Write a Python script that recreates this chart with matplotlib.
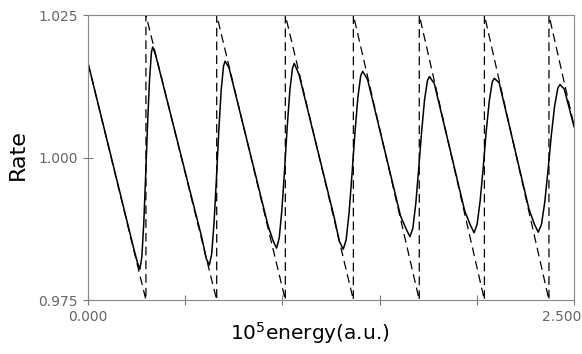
import matplotlib
matplotlib.use('Agg')
import matplotlib.pyplot as plt
import matplotlib.transforms as mtransforms

plt.rcParams['font.family'] = ['DejaVu Sans']
plt.rcParams['mathtext.default'] = 'regular'

# sawtooth (dashed): start value, jump positions, end value
jump_x = [0.298, 0.662, 1.015, 1.365, 1.704, 2.039, 2.371]
saw_start = 1.0166
saw_end = 1.0056
saw_low = 0.975
saw_high = 1.025

# smooth rate curve (solid)
rate_x = [0.000,
          0.237, 0.255, 0.267, 0.2769, 0.2868, 0.2967, 0.3066, 0.3165, 0.3264, 0.333, 0.350,
          0.585, 0.608, 0.624, 0.6362, 0.6483, 0.6605, 0.6726, 0.6848, 0.6969, 0.705, 0.725,
          0.925, 0.952, 0.970, 0.9837, 0.9973, 1.0110, 1.0246, 1.0383, 1.0519, 1.061, 1.085,
          1.265, 1.293, 1.313, 1.328, 1.343, 1.358, 1.373, 1.388, 1.403, 1.413, 1.438,
          1.608, 1.636, 1.656, 1.671, 1.686, 1.701, 1.716, 1.731, 1.746, 1.756, 1.781,
          1.938, 1.966, 1.986, 2.0016, 2.0172, 2.0328, 2.0484, 2.0640, 2.0796, 2.090, 2.115,
          2.268, 2.296, 2.316, 2.3328, 2.3496, 2.3664, 2.3832, 2.4000, 2.4168, 2.428, 2.450,
          2.500]
rate_y = [1.0166,
          0.9838, 0.9815, 0.9804, 0.9825, 0.9884, 0.9969, 1.0060, 1.0137, 1.0185, 1.0194, 1.0177,
          0.9860, 0.9823, 0.9811, 0.9831, 0.9885, 0.9962, 1.0046, 1.0117, 1.0160, 1.0169, 1.0158,
          0.9882, 0.9854, 0.9841, 0.9859, 0.9908, 0.9978, 1.0053, 1.0118, 1.0157, 1.0165, 1.0146,
          0.9897, 0.9853, 0.9839, 0.9856, 0.9903, 0.9971, 1.0043, 1.0105, 1.0144, 1.0151, 1.0137,
          0.9897, 0.9875, 0.9861, 0.9876, 0.9919, 0.9980, 1.0045, 1.0101, 1.0135, 1.0142, 1.0130,
          0.9906, 0.9882, 0.9868, 0.9883, 0.9924, 0.9982, 1.0046, 1.0099, 1.0133, 1.0139, 1.0131,
          0.9910, 0.9883, 0.9869, 0.9883, 0.9922, 0.9978, 1.0039, 1.0090, 1.0122, 1.0128, 1.0120,
          1.0054]

x_ticks = [0.0, 0.5, 1.0, 1.5, 2.0, 2.5]
x_ticklabels = ['0.000', '', '', '', '', '2.500']
y_ticks = [0.975, 1.000, 1.025]
y_ticklabels = ['0.975', '1.000', '1.025']

# build sawtooth vertices from the jumps
saw_x = [0.0]
saw_y = [saw_start]
for j in jump_x:
    saw_x += [j, j]
    saw_y += [saw_low, saw_high]
saw_x.append(2.5)
saw_y.append(saw_end)

fig = plt.figure(figsize=(5.82, 3.54), dpi=100)
ax = fig.add_axes([0.1512, 0.1525, 0.8351, 0.8051])

ax.plot(saw_x, saw_y, color='black', lw=0.9, dashes=(7, 4))
ax.plot(rate_x, rate_y, color='black', lw=1.1)

ax.set_xlim(0, 2.5)
ax.set_ylim(0.975, 1.025)

for s in ax.spines.values():
    s.set_color('#888888')
    s.set_linewidth(0.8)

ax.set_xticks(x_ticks)
ax.set_xticklabels(x_ticklabels)
ax.set_yticks(y_ticks)
ax.set_yticklabels(y_ticklabels)
ax.tick_params(direction='inout', length=7, width=0.8, color='#777777',
               labelcolor='#666666', labelsize=10)
ax.tick_params(axis='y', pad=4)
ax.tick_params(axis='x', pad=4)

# last x label sits right of its tick
lab = ax.get_xticklabels()[-1]
lab.set_horizontalalignment('right')
lab.set_transform(lab.get_transform() + mtransforms.ScaledTranslation(7 / 100, 0, fig.dpi_scale_trans))

ax.set_ylabel('Rate', fontsize=16, color='black')
ax.yaxis.set_label_coords(-0.123, 0.51)
ax.set_xlabel('10$^5$energy(a.u.)', fontsize=14.5, color='black')
ax.xaxis.set_label_coords(0.457, -0.072)

fig.savefig('out.png', dpi=100)
